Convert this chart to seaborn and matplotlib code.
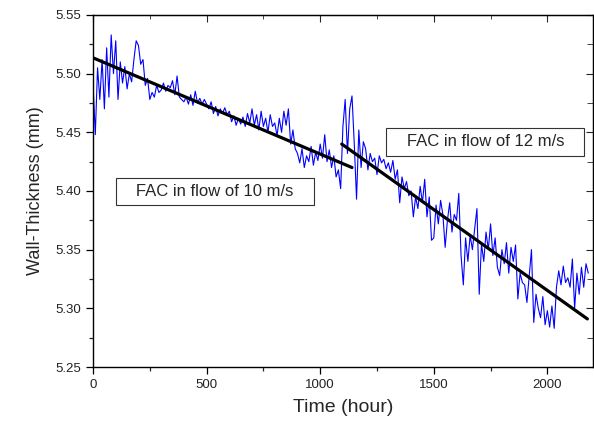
import numpy as np
import pandas as pd
import matplotlib
matplotlib.use("Agg")
import matplotlib.pyplot as plt
import seaborn as sns
from matplotlib.ticker import MultipleLocator

# ---- data ----
time_step_hours = 10
thickness_mm = [
    5.492, 5.448, 5.505, 5.478, 5.512, 5.470, 5.522, 5.480, 5.533, 5.500,
    5.528, 5.478, 5.510, 5.492, 5.506, 5.487, 5.500, 5.493, 5.512, 5.528,
    5.524, 5.508, 5.512, 5.490, 5.496, 5.478, 5.484, 5.480, 5.490, 5.484,
    5.486, 5.492, 5.485, 5.490, 5.488, 5.494, 5.482, 5.498, 5.480, 5.478,
    5.476, 5.480, 5.474, 5.482, 5.473, 5.485, 5.475, 5.479, 5.474, 5.478,
    5.474, 5.470, 5.476, 5.466, 5.472, 5.464, 5.470, 5.466, 5.471, 5.465,
    5.468, 5.459, 5.464, 5.456, 5.462, 5.457, 5.463, 5.455, 5.466, 5.458,
    5.470, 5.456, 5.465, 5.452, 5.468, 5.455, 5.462, 5.450, 5.465, 5.455,
    5.458, 5.447, 5.462, 5.450, 5.468, 5.456, 5.470, 5.440, 5.452, 5.436,
    5.432, 5.424, 5.436, 5.420, 5.430, 5.425, 5.438, 5.422, 5.433, 5.426,
    5.440, 5.428, 5.448, 5.425, 5.435, 5.420, 5.430, 5.412, 5.418, 5.402,
    5.455, 5.478, 5.432, 5.470, 5.481, 5.440, 5.393, 5.452, 5.420, 5.442,
    5.436, 5.418, 5.432, 5.425, 5.428, 5.414, 5.430, 5.424, 5.427, 5.419,
    5.424, 5.416, 5.426, 5.410, 5.418, 5.390, 5.412, 5.402, 5.408, 5.396,
    5.400, 5.378, 5.395, 5.385, 5.404, 5.390, 5.410, 5.378, 5.395, 5.358,
    5.360, 5.388, 5.372, 5.392, 5.380, 5.352, 5.375, 5.390, 5.365, 5.380,
    5.375, 5.398, 5.345, 5.320, 5.360, 5.340, 5.362, 5.350, 5.368, 5.385,
    5.312, 5.355, 5.340, 5.365, 5.350, 5.372, 5.345, 5.360, 5.335, 5.328,
    5.350, 5.338, 5.356, 5.330, 5.352, 5.340, 5.354, 5.308, 5.330, 5.322,
    5.320, 5.305, 5.328, 5.350, 5.288, 5.312, 5.300, 5.292, 5.310, 5.286,
    5.298, 5.284, 5.302, 5.283, 5.318, 5.332, 5.320, 5.336, 5.322, 5.326,
    5.318, 5.342, 5.300, 5.330, 5.312, 5.335, 5.318, 5.338, 5.330,
]
time_hours = np.arange(len(thickness_mm)) * time_step_hours

fit10_x = [0, 1140]
fit10_y = [5.5135, 5.420]
fit12_x = [1095, 2176]
fit12_y = [5.440, 5.291]

label_10 = "FAC in flow of 10 m/s"
label_12 = "FAC in flow of 12 m/s"

# ---- style ----
sns.set_style("ticks")
plt.rcParams["font.family"] = ["Liberation Sans", "DejaVu Sans"]

fig = plt.figure(figsize=(5.94, 4.22), dpi=100)
ax = fig.add_axes([0.1566, 0.1303, 0.8414, 0.8342])

df = pd.DataFrame({"t": time_hours, "w": thickness_mm})
sns.lineplot(data=df, x="t", y="w", ax=ax, color="#0000ff", lw=0.8,
             estimator=None, sort=False)
sns.lineplot(x=fit10_x, y=fit10_y, ax=ax, color="black", lw=2.3, estimator=None)
sns.lineplot(x=fit12_x, y=fit12_y, ax=ax, color="black", lw=2.3, estimator=None)

ax.set_xlim(0, 2200)
ax.set_ylim(5.25, 5.55)
ax.xaxis.set_major_locator(MultipleLocator(500))
ax.xaxis.set_minor_locator(MultipleLocator(250))
ax.yaxis.set_major_locator(MultipleLocator(0.05))
ax.yaxis.set_minor_locator(MultipleLocator(0.025))
ax.yaxis.set_major_formatter(matplotlib.ticker.FormatStrFormatter("%.2f"))
ax.tick_params(which="major", direction="out", length=5, width=0.9,
               labelsize=9.5, colors="black", labelcolor="#222222")
ax.tick_params(which="minor", direction="out", length=3, width=0.9)
for s in ax.spines.values():
    s.set_visible(True)
    s.set_linewidth(1.0)
    s.set_color("black")

sec_x = ax.secondary_xaxis("top")
sec_x.xaxis.set_major_locator(MultipleLocator(500))
sec_x.xaxis.set_minor_locator(MultipleLocator(250))
sec_x.tick_params(which="both", direction="in", labeltop=False)
sec_x.tick_params(which="major", length=5)
sec_x.tick_params(which="minor", length=3)
sec_y = ax.secondary_yaxis("right")
sec_y.yaxis.set_major_locator(MultipleLocator(0.05))
sec_y.yaxis.set_minor_locator(MultipleLocator(0.025))
sec_y.tick_params(which="both", direction="in", labelright=False)
sec_y.tick_params(which="major", length=5)
sec_y.tick_params(which="minor", length=4)

ax.set_xlabel("Time (hour)", fontsize=14, labelpad=6)
ax.set_ylabel("Wall-Thickness (mm)", fontsize=13, labelpad=8)

box = dict(boxstyle="square,pad=0.38", fc="white", ec="#333333", lw=0.8)
ax.text(536, 5.3996, "   " + label_10 + "   ", ha="center", va="center",
        fontsize=12, bbox=box)
ax.text(1727, 5.442, "   " + label_12 + "   ", ha="center", va="center",
        fontsize=12, bbox=box)

fig.savefig("out.png", dpi=100)
